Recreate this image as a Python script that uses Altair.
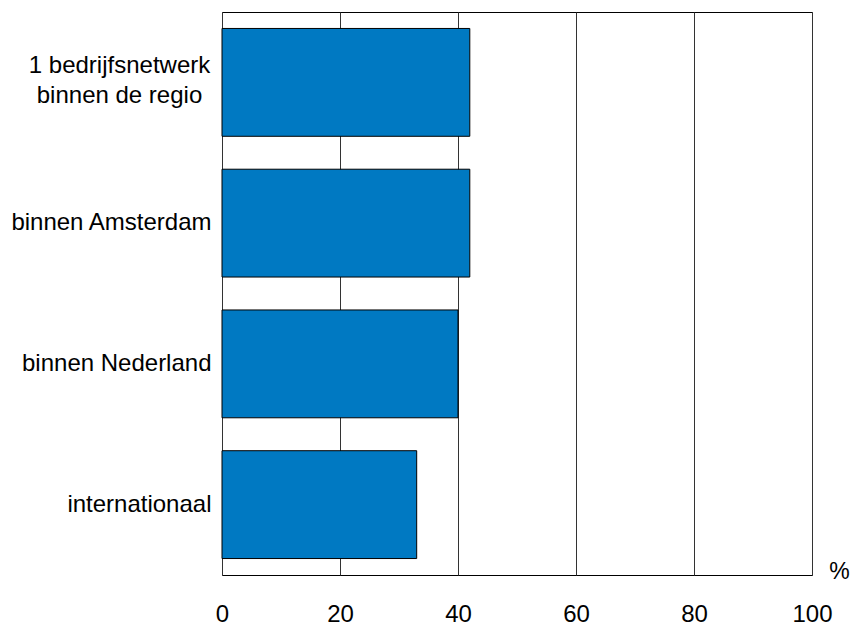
import altair as alt
import pandas as pd

categories = ["1 bedrijfsnetwerk|binnen de regio", "binnen Amsterdam", "binnen Nederland", "internationaal"]
values = [42, 42, 40, 33]
x_ticks = [0, 20, 40, 60, 80, 100]

df = pd.DataFrame({"cat": categories, "val": values})

multi = "indexof(datum.label, '|') >= 0"

chart = alt.Chart(df).mark_bar(
    color="#0079C2", stroke="#000000", strokeWidth=1
).encode(
    y=alt.Y("cat:N", sort=categories,
            scale=alt.Scale(paddingInner=0.234, paddingOuter=0.117),
            axis=alt.Axis(title=None, labelExpr="split(datum.label, '|')",
                          labelFontSize=24, labelFont="Liberation Sans", labelColor="#000000",
                          labelLineHeight=30, ticks=False, domain=False,
                          labelAlign={"condition": {"test": multi, "value": "center"}, "value": "right"},
                          labelPadding={"condition": {"test": multi, "value": 103}, "value": 11},
                          labelOffset={"condition": {"test": multi, "value": -16}, "value": 0},
                          grid=False, labelLimit=400)),
    x=alt.X("val:Q", scale=alt.Scale(domain=[0, 100], nice=False),
            axis=alt.Axis(values=x_ticks, title="%", titleFontSize=23, titleFont="Liberation Sans",
                          titleFontWeight="normal", titleColor="#000000",
                          titleX=617, titleY=-4, titleAlign="center", titleBaseline="middle",
                          labelFontSize=24, labelFont="Liberation Sans", labelColor="#000000",
                          labelPadding=27, labelFlush=False, ticks=False, domain=False,
                          grid=True, gridColor="#333333", gridWidth=1, gridOpacity=1))
).properties(
    width=590, height=563,
    autosize=alt.AutoSizeParams(type="none"),
    padding={"left": 214, "top": 4, "right": 40, "bottom": 52}
).configure_view(
    stroke="#000000", strokeWidth=1
)

chart.save("out.html", embed_options={"renderer": "svg", "actions": False})
